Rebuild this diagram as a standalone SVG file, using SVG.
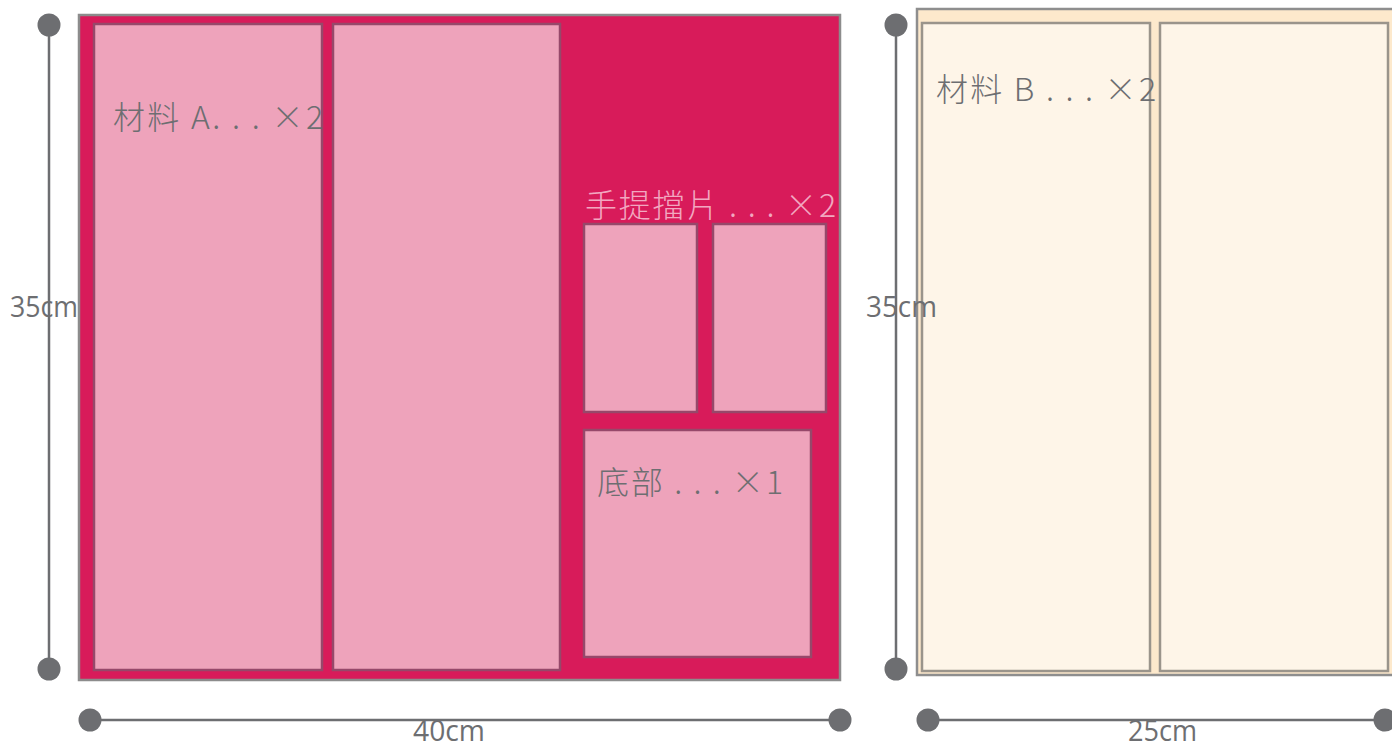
<svg xmlns="http://www.w3.org/2000/svg" width="1392" height="749" viewBox="0 0 1392 749">
<style>
.dim{stroke:#6d6e71;stroke-width:2.5;fill:none}
.dot{fill:#6d6e71}
.pa{fill:#eea3bb;stroke:#96486a;stroke-width:2.5}
.pb{fill:#fef5e8;stroke:#9a948b;stroke-width:2.5}
.lbl{font-family:"Noto Sans CJK TC","Noto Sans",sans-serif;font-size:32px;font-weight:300;fill:#6d6e71}
.num{font-family:"Open Sans","Noto Sans",sans-serif;font-size:30px;fill:#6d6e71}
</style>
<rect width="1392" height="749" fill="#ffffff"/>
<g id="panel-a">
<rect x="79" y="15" width="761" height="665" fill="#d81b5a" stroke="#8c8c8c" stroke-width="2.5"/>
</g>
<g id="piece-a1"><rect class="pa" x="94" y="24" width="228" height="646"/></g>
<g id="piece-a2"><rect class="pa" x="333" y="24" width="227" height="646"/></g>
<g id="handle-1"><rect class="pa" x="584" y="224" width="113" height="188"/></g>
<g id="handle-2"><rect class="pa" x="713" y="224" width="113" height="188"/></g>
<g id="bottom"><rect class="pa" x="584" y="430" width="227" height="227"/></g>
<g id="panel-b">
<rect x="917" y="9" width="480" height="666" fill="#fde9cc" stroke="#8e8e8e" stroke-width="2.5"/>
</g>
<g id="piece-b1"><rect class="pb" x="922" y="23" width="228" height="648"/></g>
<g id="piece-b2"><rect class="pb" x="1160" y="23" width="228" height="648"/></g>
<g id="labels">
<text class="lbl" x="113" y="129" textLength="210" lengthAdjust="spacing">材料 A. . . ×2</text>
<text class="lbl" x="585" y="217" textLength="251" lengthAdjust="spacing" style="fill:#f2a7c0">手提擋片 . . . ×2</text>
<text class="lbl" x="597" y="494" textLength="186" lengthAdjust="spacing">底部 . . . ×1</text>
<text class="lbl" x="936" y="101" textLength="220" lengthAdjust="spacing">材料 B . . . ×2</text>
</g>
<g id="connectors">
<line class="dim" x1="49" y1="25" x2="49" y2="669"/>
<circle class="dot" cx="49" cy="25" r="11.5"/>
<circle class="dot" cx="49" cy="669" r="11.5"/>
<line class="dim" x1="90" y1="720" x2="840" y2="720"/>
<circle class="dot" cx="90" cy="720" r="11.5"/>
<circle class="dot" cx="840" cy="720" r="11.5"/>
<line class="dim" x1="896" y1="25" x2="896" y2="669"/>
<circle class="dot" cx="896" cy="25" r="11.5"/>
<circle class="dot" cx="896" cy="669" r="11.5"/>
<line class="dim" x1="928" y1="720" x2="1384" y2="720"/>
<circle class="dot" cx="928" cy="720" r="11.5"/>
<circle class="dot" cx="1385" cy="720" r="11.5"/>
</g>
<g id="dims">
<text class="num" x="10" y="317" textLength="68" lengthAdjust="spacingAndGlyphs">35cm</text>
<text class="num" x="866" y="317" textLength="71" lengthAdjust="spacingAndGlyphs">35cm</text>
<text class="num" x="413" y="741" textLength="72" lengthAdjust="spacingAndGlyphs">40cm</text>
<text class="num" x="1128" y="741" textLength="69" lengthAdjust="spacingAndGlyphs">25cm</text>
</g>
</svg>
